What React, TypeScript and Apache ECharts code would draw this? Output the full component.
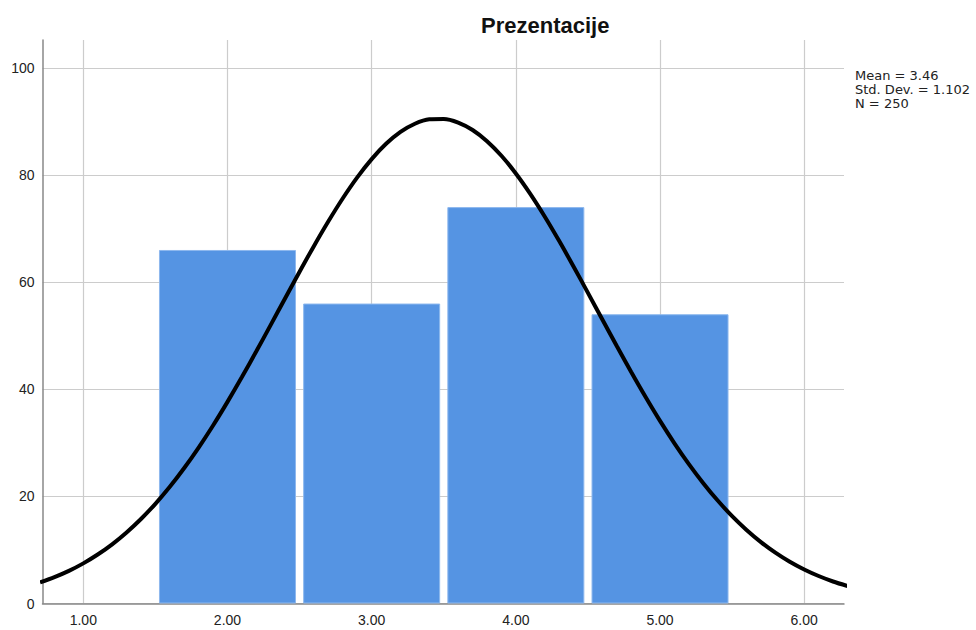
import React, { useEffect, useRef } from "react";
import * as echarts from "echarts";

const titleText = "Prezentacije";
const binCenters = [2, 3, 4, 5];
const binCounts = [66, 56, 74, 54];
const xTicks = [1, 2, 3, 4, 5, 6];
const yTicks = [0, 20, 40, 60, 80, 100];
const statsLines = ["Mean = 3.46", "Std. Dev. = 1.102", "N = 250"];
const curveX = [0.7, 0.8, 0.9, 1.0, 1.1, 1.2, 1.3, 1.4, 1.5, 1.6, 1.7, 1.8, 1.9, 2.0, 2.1, 2.2, 2.3, 2.4, 2.5, 2.6, 2.7, 2.8, 2.9, 3.0, 3.1, 3.2, 3.3, 3.4, 3.5, 3.6, 3.7, 3.8, 3.9, 4.0, 4.1, 4.2, 4.3, 4.4, 4.5, 4.6, 4.7, 4.8, 4.9, 5.0, 5.1, 5.2, 5.3, 5.4, 5.5, 5.6, 5.7, 5.8, 5.9, 6.0, 6.1, 6.2, 6.3];
const curveY = [3.93, 4.92, 6.09, 7.49, 9.14, 11.05, 13.26, 15.78, 18.61, 21.78, 25.29, 29.11, 33.23, 37.64, 42.27, 47.08, 52.02, 56.99, 61.94, 66.76, 71.36, 75.66, 79.56, 82.97, 85.82, 88.04, 89.57, 90.39, 90.46, 89.79, 88.4, 86.31, 83.59, 80.28, 76.47, 72.25, 67.7, 62.92, 57.99, 53.01, 48.06, 43.22, 38.55, 34.09, 29.91, 26.02, 22.46, 19.22, 16.31, 13.74, 11.47, 9.5, 7.8, 6.35, 5.13, 4.11, 3.27];

export default function App() {
  const ref = useRef<HTMLDivElement>(null);
  useEffect(() => {
    if (!ref.current) return;
    const chart = echarts.init(ref.current, null, { renderer: "svg" });
    const font = "Arial, 'Liberation Sans', sans-serif";
    chart.setOption({
      animation: false,
      backgroundColor: "#ffffff",
      grid: { left: 42.5, top: 40, right: 132, bottom: 26.5, containLabel: false },
      xAxis: {
        type: "value",
        min: 0.717,
        max: 6.276,
        axisLine: { show: true, lineStyle: { color: "#888888", width: 1.5 } },
        axisTick: { show: false, customValues: xTicks },
        axisLabel: {
          customValues: xTicks,
          formatter: (v: number) => v.toFixed(2),
          color: "#222222",
          fontSize: 14,
          fontFamily: font,
          margin: 9,
        },
        splitLine: { show: true, lineStyle: { color: "#cccccc", width: 1.2 } },
      },
      yAxis: {
        type: "value",
        min: 0,
        max: 105.2,
        axisLine: { show: true, lineStyle: { color: "#888888", width: 1.5 } },
        axisTick: { show: false, customValues: yTicks },
        axisLabel: {
          customValues: yTicks,
          color: "#222222",
          fontSize: 14,
          fontFamily: font,
          margin: 8,
        },
        splitLine: { show: true, lineStyle: { color: "#cccccc", width: 1.2 } },
      },
      title: {
        text: titleText,
        left: 476,
        top: 9,
        textStyle: { fontSize: 22, fontWeight: "bold", color: "#111111", fontFamily: font },
      },
      graphic: [
        {
          type: "text",
          left: 855,
          top: 68,
          style: {
            text: statsLines.join("\n"),
            fill: "#222222",
            font: "13px 'DejaVu Sans', sans-serif",
            lineHeight: 14,
          },
        },
      ],
      series: [
        {
          type: "bar",
          data: binCenters.map((c, i) => [c, binCounts[i]]),
          barWidth: 137,
          itemStyle: { color: "#5594E3", borderColor: "#8db8ee", borderWidth: 1 },
          z: 2,
        },
        {
          type: "line",
          data: curveX.map((x, i) => [x, curveY[i]]),
          smooth: 0.3,
          showSymbol: false,
          lineStyle: { color: "#000000", width: 4 },
          z: 3,
        },
      ],
    });
    return () => chart.dispose();
  }, []);
  return <div ref={ref} style={{ position: "fixed", left: 0, top: 0, width: 976, height: 630 }} />;
}
